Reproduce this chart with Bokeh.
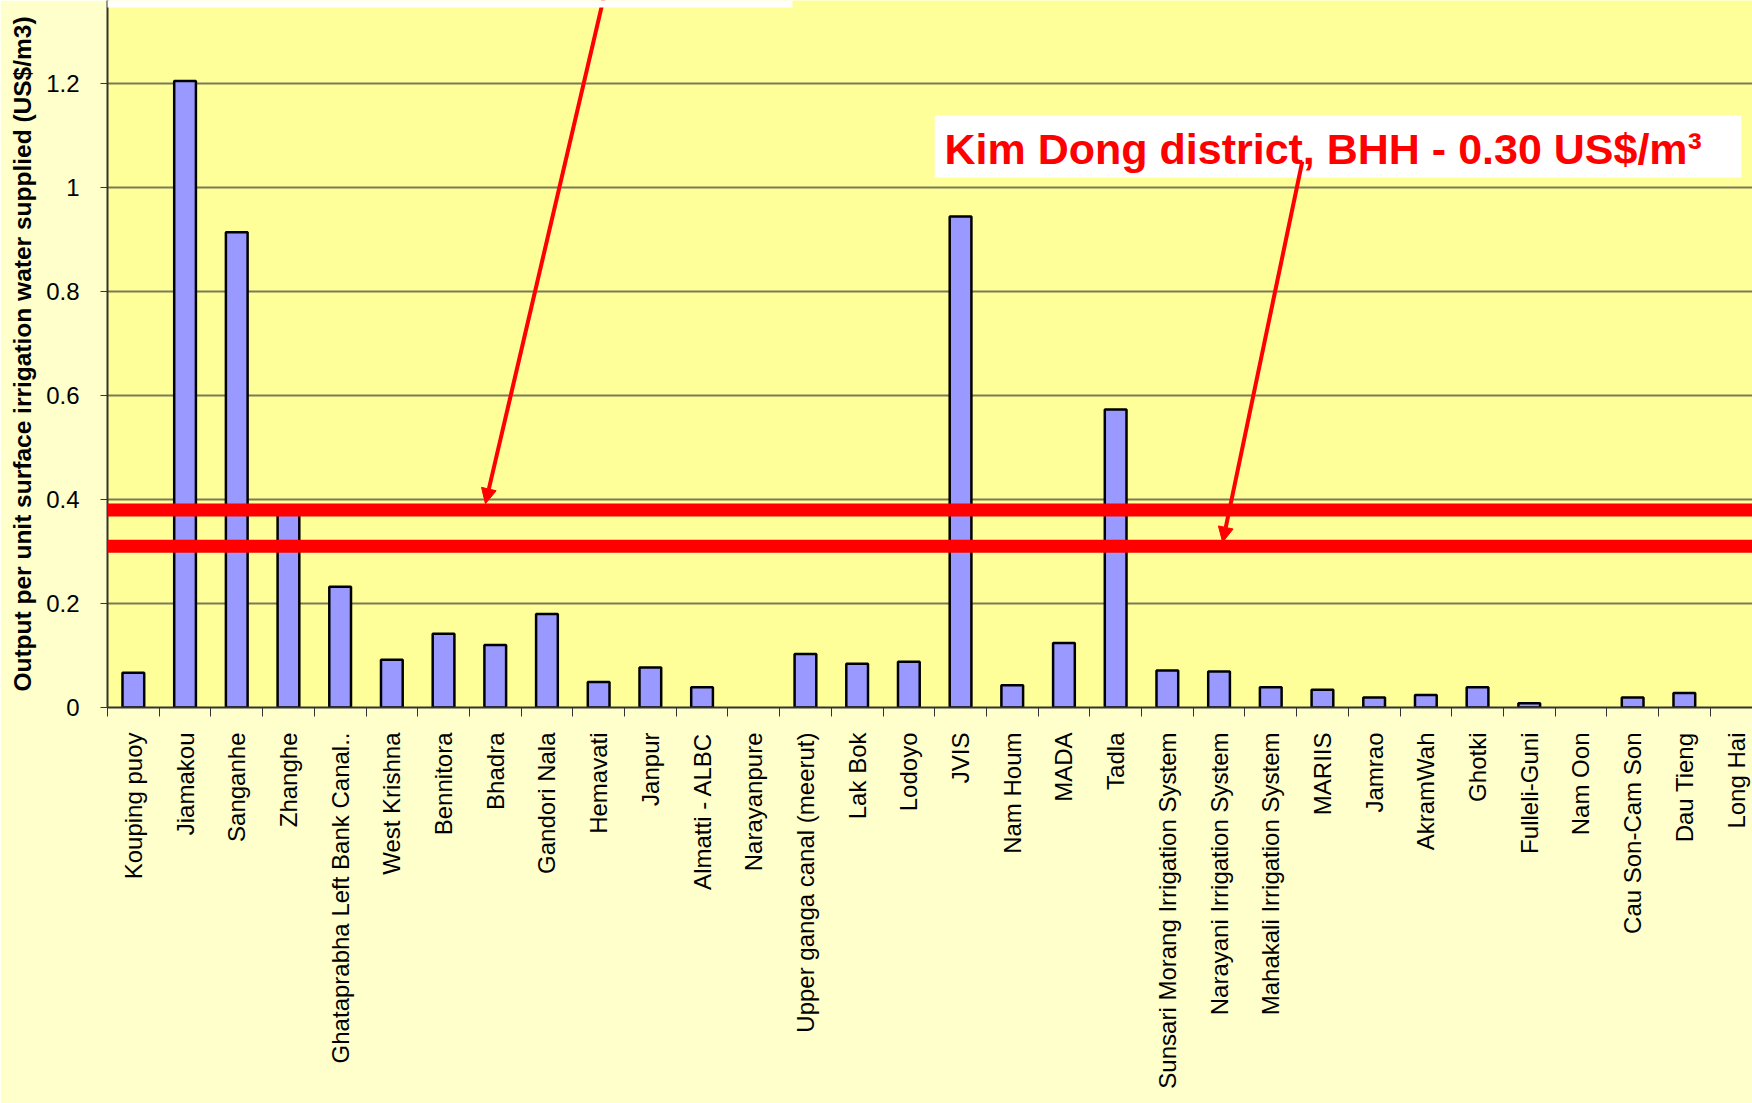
import numpy as np
from bokeh.plotting import figure
from bokeh.models import (Range1d, FixedTicker, LinearAxis, NumeralTickFormatter, Span,
                          Label, BoxAnnotation, Arrow, NormalHead, Grid)
from bokeh.embed import file_html
from bokeh.resources import INLINE

# ---------------- data ----------------
schemes = [
    "Kouping puoy", "Jiamakou", "Sanganhe", "Zhanghe", "Ghataprabha Left Bank Canal..",
    "West Krishna", "Bennitora", "Bhadra", "Gandori Nala", "Hemavati", "Janpur",
    "Almatti - ALBC", "Narayanpure", "Upper ganga canal (meerut)", "Lak Bok", "Lodoyo",
    "JVIS", "Nam Houm", "MADA", "Tadla", "Sunsari Morang Irrigation System",
    "Narayani Irrigation System", "Mahakali Irrigation System", "MARIIS", "Jamrao",
    "AkramWah", "Ghotki", "Fulleli-Guni", "Nam Oon", "Cau Son-Cam Son", "Dau Tieng",
    "Long Hai",
]
output_per_m3 = [
    0.067, 1.205, 0.914, 0.375, 0.232,
    0.092, 0.142, 0.120, 0.180, 0.049, 0.077,
    0.039, 0.0, 0.103, 0.084, 0.088,
    0.944, 0.043, 0.124, 0.573, 0.071,
    0.069, 0.039, 0.034, 0.019,
    0.024, 0.039, 0.008, 0.0, 0.019, 0.028,
    0.0,
]
y_ticks = [0, 0.2, 0.4, 0.6, 0.8, 1.0, 1.2]
reference_levels = [0.38, 0.31]
y_title = "Output per unit surface irrigation water supplied (US$/m3)"
callout_text = "Kim Dong district, BHH - 0.30 US$/m\u00b3"

FONT = "Liberation Sans"

# ---------------- layout ----------------
W, H = 1752, 1103
LEFT, BOTTOM = 107, 396
PX_PER_CAT = 51.7
PX_PER_UNIT = 520.0
x_end = (W - LEFT) / PX_PER_CAT
y_end = (H - BOTTOM) / PX_PER_UNIT

n = len(schemes)
centers = [i + 0.5 for i in range(n)]
boundaries = list(range(n + 1))

p = figure(width=W, height=H, x_range=Range1d(0, x_end), y_range=Range1d(0, y_end),
           output_backend="svg", toolbar_location=None,
           x_axis_location=None, y_axis_location=None)
p.center = []
p.min_border = 0
p.min_border_left = LEFT
p.min_border_bottom = BOTTOM
p.min_border_top = 0
p.min_border_right = 0
p.background_fill_color = "#FFFF99"
p.border_fill_color = "#FFFFCC"
p.outline_line_color = None

# horizontal grid only
p.add_layout(Grid(dimension=1, ticker=FixedTicker(ticks=y_ticks[1:]),
                  grid_line_color="#7A7A58", grid_line_width=2), "center")

# bars (zero-valued schemes draw nothing, as in the source)
bx = [c for c, v in zip(centers, output_per_m3) if v > 0]
bt = [v for v in output_per_m3 if v > 0]
p.vbar(x=bx, top=bt, width=0.42, bottom=0,
       fill_color="#9999FF", line_color="black", line_width=2.5)

# y axis
yaxis = LinearAxis(ticker=FixedTicker(ticks=y_ticks),
                   formatter=NumeralTickFormatter(format="0.[0]"),
                   axis_label=y_title)
yaxis.axis_label_text_font = FONT
yaxis.axis_label_text_font_size = "24.5px"
yaxis.axis_label_text_font_style = "bold"
yaxis.axis_label_text_color = "black"
yaxis.axis_label_standoff = 7
yaxis.major_label_text_font = FONT
yaxis.major_label_text_font_size = "24px"
yaxis.major_label_text_color = "black"
yaxis.major_label_standoff = 21
yaxis.major_tick_out = 7
yaxis.major_tick_in = 0
yaxis.minor_tick_out = 0
yaxis.minor_tick_in = 0
yaxis.axis_line_width = 2
yaxis.axis_line_color = "#333333"
yaxis.major_tick_line_color = "#333333"
p.add_layout(yaxis, "left")

# x axis: labels at category centres, ticks (minor) at category boundaries
xaxis = LinearAxis(ticker=FixedTicker(ticks=centers, minor_ticks=boundaries),
                   major_label_overrides={c: s for c, s in zip(centers, schemes)})
xaxis.major_label_orientation = np.pi / 2
xaxis.major_label_text_font = FONT
xaxis.major_label_text_font_size = "24px"
xaxis.major_label_text_color = "black"
xaxis.major_label_standoff = 16
xaxis.axis_line_width = 2
xaxis.axis_line_color = "#333333"
xaxis.major_tick_line_color = None
xaxis.major_tick_out = 0
xaxis.major_tick_in = 0
xaxis.minor_tick_out = 9
xaxis.minor_tick_in = 0
xaxis.minor_tick_line_color = "#333333"
xaxis.minor_tick_line_width = 1
p.add_layout(xaxis, "below")

# reference levels
for lvl in reference_levels:
    p.add_layout(Span(location=lvl, dimension="width", line_color="#FF0000", line_width=13))

# callout box + text
p.add_layout(BoxAnnotation(left=16.0, right=31.6, top=1.1385, bottom=1.019,
                           fill_color="white", fill_alpha=1.0, line_color=None))
p.add_layout(Label(x=16.19, y=1.074, text=callout_text, text_font=FONT,
                   text_font_size="43px", text_font_style="bold", text_color="#FF0000",
                   text_baseline="alphabetic", text_align="left"))

# arrows
p.add_layout(Arrow(end=NormalHead(size=15, fill_color="#FF0000", line_color="#FF0000"),
                   x_start=9.61, y_start=1.37, x_end=7.31, y_end=0.392,
                   line_color="#FF0000", line_width=4))
p.add_layout(Arrow(end=NormalHead(size=15, fill_color="#FF0000", line_color="#FF0000"),
                   x_start=23.11, y_start=1.05, x_end=21.57, y_end=0.318,
                   line_color="#FF0000", line_width=4))

# white strip of the (cropped) upper call-out box at the very top
p.add_layout(BoxAnnotation(left=-2.1, right=13.25, top=y_end + 0.05, bottom=1.346,
                           fill_color="white", fill_alpha=1.0, line_color=None))

open("out.html", "w").write(file_html(p, INLINE))
